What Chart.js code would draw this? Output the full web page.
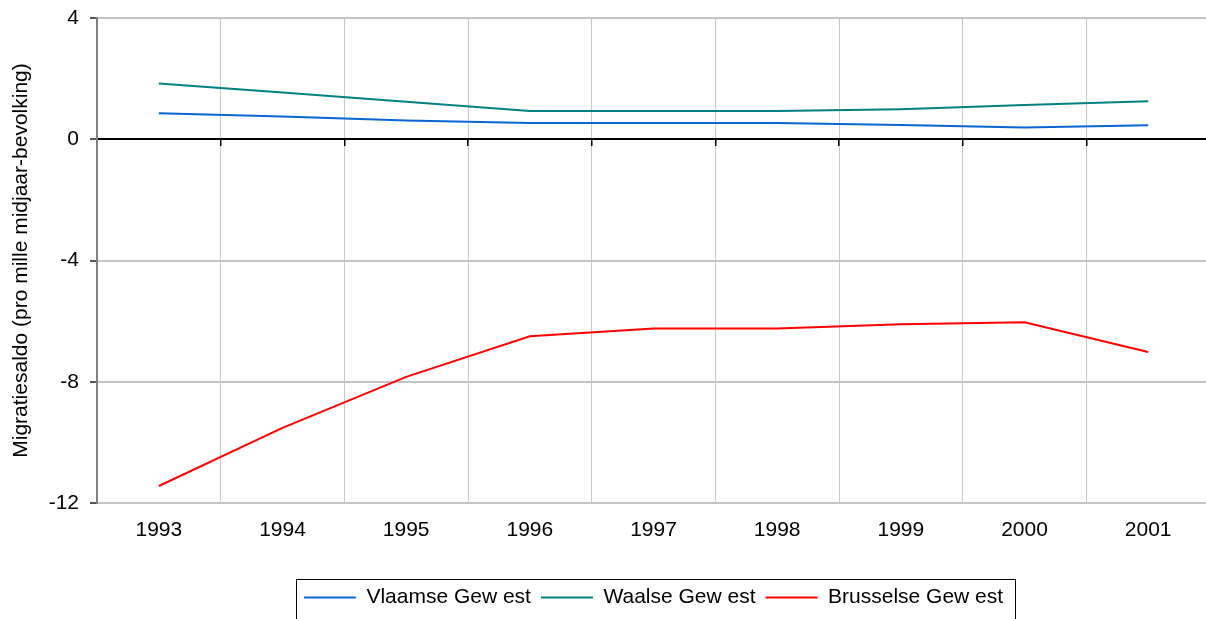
<!DOCTYPE html>
<html>
<head>
<meta charset="utf-8">
<script src="https://cdn.jsdelivr.net/npm/chart.js@4"></script>
<style>
    html, body { margin: 0; padding: 0; overflow: hidden; background: #fff; }
</style>
</head>
<body>
<canvas id="migratieChart" width="1212" height="619"></canvas>
<script>
const years = ['1993', '1994', '1995', '1996', '1997', '1998', '1999', '2000', '2001'];
const vlaamsGewest = [0.86, 0.75, 0.62, 0.54, 0.54, 0.54, 0.47, 0.39, 0.46];
const waalsGewest = [1.84, 1.54, 1.24, 0.93, 0.93, 0.93, 0.99, 1.13, 1.25];
const brusselsGewest = [-11.44, -9.52, -7.84, -6.50, -6.24, -6.24, -6.10, -6.04, -7.02];
const seriesNames = ['Vlaamse Gew est', 'Waalse Gew est', 'Brusselse Gew est'];
const seriesColors = ['#0a64d2', '#008080', '#ff0000'];
const yTicks = [-12, -8, -4, 0, 4];

const font = 'Liberation Sans, Arial, sans-serif';

// box around the legend, like the excel export
const legendFrame = {
    id: 'legendFrame',
    afterDraw: (chart) => {
        const legend = chart.legend;
        const boxes = legend.legendHitBoxes;
        if (!boxes || !boxes.length) {
            return;
        }
        const last = boxes[boxes.length - 1];
        const left = Math.round(boxes[0].left - 8);
        const right = Math.round(last.left + last.width + 12);
        const top = Math.round(legend.top + 2);
        const ctx = chart.ctx;
        ctx.save();
        ctx.strokeStyle = '#000';
        ctx.lineWidth = 1;
        ctx.strokeRect(left + 0.5, top + 0.5, right - left, 100);
        ctx.restore();
    }
};

const makeDataset = (label, data, color) => ({
    label,
    data,
    xAxisID: 'x',
    borderColor: color,
    backgroundColor: color,
    borderWidth: 2,
    pointRadius: 0,
    tension: 0,
    fill: false
});

const ele = document.getElementById('migratieChart');
new Chart(ele.getContext('2d'), {
    type: 'line',
    data: {
        labels: years,
        datasets: [
            makeDataset(seriesNames[0], vlaamsGewest, seriesColors[0]),
            makeDataset(seriesNames[1], waalsGewest, seriesColors[1]),
            makeDataset(seriesNames[2], brusselsGewest, seriesColors[2])
        ]
    },
    options: {
        responsive: false,
        animation: false,
        layout: {
            padding: { left: 0, top: 18, right: 2, bottom: 1 }
        },
        plugins: {
            legend: {
                display: true,
                position: 'bottom',
                fullSize: false,
                labels: {
                    color: '#000',
                    font: { family: font, size: 21 },
                    usePointStyle: true,
                    pointStyle: 'line',
                    pointStyleWidth: 52,
                    padding: 10
                }
            },
            tooltip: { enabled: false }
        },
        scales: {
            x: {
                type: 'category',
                offset: true,
                afterFit: (scale) => { scale.height = 74; },
                grid: {
                    offset: true,
                    color: '#c8c8c8',
                    lineWidth: 1,
                    drawTicks: false
                },
                border: { display: false },
                ticks: {
                    color: '#000',
                    font: { family: font, size: 21 },
                    padding: 15,
                    maxRotation: 0
                }
            },
            x2: {
                type: 'category',
                offset: true,
                position: { y: 0 },
                grid: {
                    offset: true,
                    drawOnChartArea: false,
                    drawTicks: true,
                    tickLength: 6,
                    tickColor: '#000',
                    lineWidth: 1.5
                },
                border: { color: '#000', width: 2 },
                ticks: { display: false }
            },
            y: {
                min: -12,
                max: 4,
                afterFit: (scale) => {
                    scale.width = 97;
                    scale.paddingTop = 0;
                    scale.paddingBottom = 0;
                },
                afterBuildTicks: (scale) => {
                    scale.ticks = yTicks.map(value => ({ value }));
                },
                title: {
                    display: true,
                    text: 'Migratiesaldo (pro mille midjaar-bevolking)',
                    color: '#000',
                    font: { family: font, size: 21 },
                    padding: { top: 9, bottom: 0 }
                },
                grid: {
                    color: (context) => context.tick && context.tick.value === 0 ? 'rgba(0,0,0,0)' : '#c4c4c4',
                    lineWidth: 2,
                    tickLength: 7,
                    tickColor: '#555'
                },
                border: { color: '#808080', width: 2 },
                ticks: {
                    color: '#000',
                    font: { family: font, size: 21 },
                    padding: 11
                }
            }
        }
    },
    plugins: [legendFrame]
});
</script>
</body>
</html>
